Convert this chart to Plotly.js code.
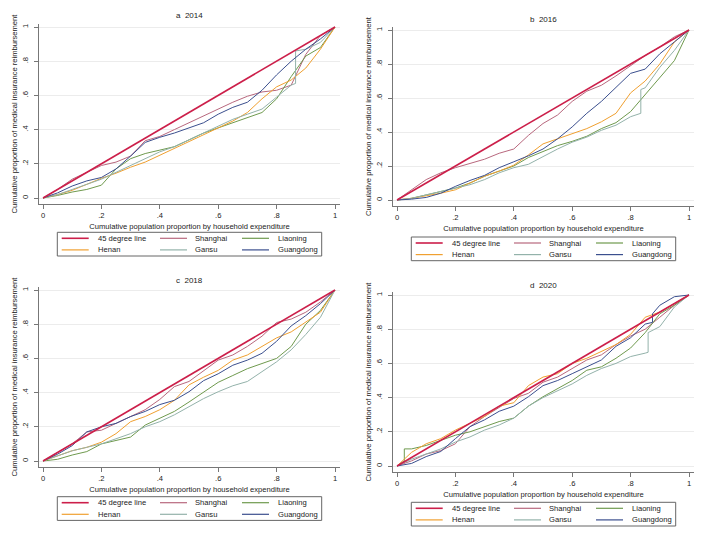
<!DOCTYPE html>
<html>
<head>
<meta charset="utf-8">
<script src="https://cdn.plot.ly/plotly-3.0.1.min.js"></script>
<style>html,body{margin:0;padding:0;background:#fff;}#chart{width:708px;height:533px;}</style>
</head>
<body>
<div id="chart"></div>
<script>
// ---------- data ----------
const xGrid = [0,0.05,0.1,0.15,0.2,0.25,0.3,0.35,0.4,0.45,0.5,0.55,0.6,0.65,0.7,0.75,0.8,0.85,0.9,0.95,1];
const diagX = [0,1];
const diagY = [0,1];
const xTickVals = [0,0.2,0.4,0.6,0.8,1];
const xTickText = ['0','.2','.4','.6','.8','1'];
const yTickVals = [0,0.2,0.4,0.6,0.8,1];
const yTickText = ['0','.2','.4','.6','.8','1'];
const seriesNames = ['45 degree line','Shanghai','Liaoning','Henan','Gansu','Guangdong'];
const panelTitles = ['a  2014','b  2016','c  2018','d  2020'];
const xTitle = 'Cumulative population proportion by household expenditure';
const yTitle = 'Cumulative proportion of medical insurance reimbursement';

// 2014
const sh14 = [0,.05,.11,.15,.19,.21,.245,.335,.36,.40,.44,.48,.52,.56,.595,.62,.63,.66,.84,.95,1];
const ln14 = [0,.015,.035,.05,.075,.17,.23,.26,.28,.30,.34,.38,.41,.44,.47,.50,.58,.71,.83,.88,1];
const hn14 = [0,.02,.045,.08,.115,.145,.18,.21,.25,.29,.33,.37,.41,.45,.50,.58,.65,.69,.76,.87,1];
const gs14X = [0,.05,.1,.15,.2,.25,.3,.35,.4,.45,.5,.55,.6,.65,.7,.75,.8,.85,.865,.865,.9,.95,1];
const gs14 = [0,.02,.05,.08,.11,.15,.19,.23,.27,.30,.34,.38,.42,.46,.49,.52,.59,.66,.67,.86,.87,.91,1];
const gd14 = [0,.03,.07,.10,.12,.17,.245,.325,.355,.38,.41,.44,.49,.53,.56,.63,.72,.80,.87,.93,1];
// 2016
const sh16 = [0,.06,.12,.16,.19,.215,.24,.275,.30,.38,.45,.50,.58,.64,.675,.73,.79,.85,.90,.96,1];
const ln16 = [0,.01,.03,.05,.07,.10,.14,.17,.20,.25,.285,.32,.345,.375,.42,.455,.52,.62,.72,.82,1];
const hn16 = [0,.01,.025,.04,.06,.10,.14,.17,.205,.265,.33,.36,.39,.42,.46,.51,.63,.70,.80,.93,1];
const gs16X = [0,.05,.1,.15,.2,.25,.3,.35,.4,.45,.5,.55,.6,.65,.7,.75,.8,.835,.835,.85,.9,.95,1];
const gs16 = [0,.01,.03,.05,.07,.09,.12,.16,.19,.21,.255,.30,.34,.37,.41,.44,.49,.51,.65,.66,.78,.88,1];
const gd16 = [0,.005,.015,.04,.08,.115,.145,.19,.225,.26,.30,.36,.43,.51,.58,.66,.745,.77,.86,.93,1];
// 2018
const sh18 = [0,.05,.10,.17,.18,.22,.26,.30,.36,.435,.465,.53,.59,.62,.67,.73,.81,.83,.87,.93,1];
const ln18 = [0,.01,.035,.055,.10,.12,.14,.21,.25,.29,.345,.40,.46,.50,.54,.57,.60,.67,.80,.88,1];
const hn18 = [0,.03,.06,.08,.11,.16,.23,.26,.30,.355,.445,.49,.53,.59,.62,.67,.72,.755,.81,.87,1];
const gs18 = [0,.03,.06,.08,.10,.13,.16,.20,.23,.27,.32,.365,.405,.44,.465,.52,.58,.65,.74,.84,1];
const gd18 = [0,.04,.09,.17,.20,.22,.26,.29,.33,.355,.405,.47,.51,.56,.59,.63,.70,.79,.85,.92,1];
// 2020
const sh20 = [0,.03,.07,.09,.13,.23,.29,.34,.395,.425,.49,.52,.57,.62,.65,.71,.76,.80,.87,.94,1];
const ln20X = [0,.025,.025,.05,.1,.15,.2,.25,.3,.35,.4,.45,.5,.55,.6,.65,.7,.75,.8,.85,.9,.95,1];
const ln20 = [0,.03,.10,.10,.12,.15,.18,.20,.23,.26,.28,.35,.405,.455,.50,.56,.58,.63,.69,.78,.89,.94,1];
const hn20 = [0,.08,.13,.16,.21,.25,.29,.35,.37,.47,.52,.54,.60,.63,.67,.71,.77,.87,.90,.95,1];
const gs20X = [0,.05,.1,.15,.2,.25,.3,.35,.4,.45,.5,.55,.6,.65,.7,.75,.8,.85,.86,.86,.9,.95,1];
const gs20 = [0,.04,.07,.10,.14,.17,.21,.24,.28,.35,.40,.44,.48,.53,.57,.60,.64,.66,.665,.78,.815,.93,1];
const gd20X = [0,.05,.1,.15,.2,.25,.3,.35,.4,.45,.5,.55,.6,.65,.7,.75,.8,.85,.875,.875,.9,.95,1];
const gd20 = [0,.015,.055,.085,.16,.23,.27,.32,.35,.405,.47,.50,.54,.58,.62,.70,.75,.83,.84,.89,.94,.99,1];

// ---------- styling / layout ----------
const W = 708, H = 533;
const FONT = 'Arial, "Liberation Sans", sans-serif';
const FS = 7.6;
const TXT = '#222';
const colors = ['#cc1f4a','#b8687e','#6f9a4e','#f0a030','#93b2aa','#3b4f8e'];
const widths = [1.6,1,1,1,1,1];

// series order: Shanghai, Liaoning, Henan, Gansu, Guangdong  -> [x, y]
const panels = [
  {x0:43, x1:335, y0:198, y1:27, titleY:16, legTop:232.3,
   series:[[xGrid,sh14],[xGrid,ln14],[xGrid,hn14],[gs14X,gs14],[xGrid,gd14]]},
  {x0:397, x1:689, y0:200, y1:30, titleY:20, legTop:237,
   series:[[xGrid,sh16],[xGrid,ln16],[xGrid,hn16],[gs16X,gs16],[xGrid,gd16]]},
  {x0:43, x1:335, y0:461, y1:290, titleY:280, legTop:496.7,
   series:[[xGrid,sh18],[xGrid,ln18],[xGrid,hn18],[xGrid,gs18],[xGrid,gd18]]},
  {x0:397, x1:689, y0:466, y1:295, titleY:285, legTop:502.3,
   series:[[xGrid,sh20],[ln20X,ln20],[xGrid,hn20],[gs20X,gs20],[gd20X,gd20]]}
];
const padL = 4, padR = 5, padB = 6, padT = 3;
const fx = p => p / W;
const fy = p => 1 - p / H;

const traces = [];
const layout = {
  width: W, height: H,
  margin: {l:0, r:0, t:0, b:0},
  paper_bgcolor: '#fff', plot_bgcolor: '#fff',
  showlegend: false,
  font: {family: FONT, size: FS, color: TXT},
  annotations: [], shapes: []
};

panels.forEach((p, i) => {
  const n = i === 0 ? '' : String(i + 1);
  const xa = 'x' + n, ya = 'y' + n;
  const ux = p.x1 - p.x0, uy = p.y0 - p.y1;
  layout['xaxis' + n] = {
    domain: [fx(p.x0 - padL), fx(p.x1 + padR)],
    range: [-padL / ux, 1 + padR / ux],
    anchor: ya, showline: true, linecolor: '#777', linewidth: 1,
    ticks: 'outside', ticklen: 4, tickcolor: '#777', tickwidth: 1,
    tickvals: xTickVals, ticktext: xTickText,
    tickfont: {family: FONT, size: FS, color: TXT},
    showgrid: false, zeroline: false, fixedrange: true,
    title: {text: xTitle, font: {family: FONT, size: FS, color: TXT}, standoff: 4}
  };
  layout['yaxis' + n] = {
    domain: [fy(p.y0 + padB), fy(p.y1 - padT)],
    range: [-padB / uy, 1 + padT / uy],
    anchor: xa, showline: true, linecolor: '#777', linewidth: 1,
    ticks: 'outside', ticklen: 4, tickcolor: '#777', tickwidth: 1,
    tickvals: yTickVals, ticktext: yTickText, tickangle: -90, ticklabelstandoff: 3,
    tickfont: {family: FONT, size: FS, color: TXT},
    showgrid: true, gridcolor: '#ececec', gridwidth: 1, zeroline: false, fixedrange: true,
    title: {text: yTitle, font: {family: FONT, size: FS, color: TXT}, standoff: 2}
  };

  p.series.forEach((s, k) => {
    traces.push({x: s[0], y: s[1], xaxis: xa, yaxis: ya, type: 'scatter', mode: 'lines',
      name: seriesNames[k + 1], line: {color: colors[k + 1], width: widths[k + 1]}, hoverinfo: 'skip'});
  });
  // 45 degree line drawn on top
  traces.push({x: diagX, y: diagY, xaxis: xa, yaxis: ya, type: 'scatter', mode: 'lines',
    name: seriesNames[0], line: {color: colors[0], width: widths[0]}, hoverinfo: 'skip'});

  // panel title
  layout.annotations.push({text: panelTitles[i].replace('  ', '\u00a0 '), xref: 'paper', yref: 'paper',
    x: fx((p.x0 + p.x1) / 2), y: fy(p.titleY), xanchor: 'center', yanchor: 'middle',
    showarrow: false, font: {family: FONT, size: FS + 0.4, color: TXT}});

  // legend box (3 columns x 2 rows)
  const top = p.legTop, bh = 23.7;
  layout.shapes.push({type: 'rect', xref: 'paper', yref: 'paper',
    x0: fx(p.x0 + 14.3), x1: fx(p.x0 + 278.7), y0: fy(top), y1: fy(top + bh),
    line: {color: '#666', width: 1}, fillcolor: 'rgba(0,0,0,0)'});
  const colLine = [18.7, 117, 199], colText = [53.7, 151.3, 233.7], rows = [top + 6, top + 17.6];
  seriesNames.forEach((nm, k) => {
    const c = k % 3, r = Math.floor(k / 3);
    layout.shapes.push({type: 'line', xref: 'paper', yref: 'paper',
      x0: fx(p.x0 + colLine[c]), x1: fx(p.x0 + colLine[c] + 27), y0: fy(rows[r]), y1: fy(rows[r]),
      line: {color: colors[k], width: k === 0 ? 1.6 : 1.2}});
    layout.annotations.push({text: nm, xref: 'paper', yref: 'paper',
      x: fx(p.x0 + colText[c]), y: fy(rows[r]), xanchor: 'left', yanchor: 'middle',
      showarrow: false, borderpad: 0, font: {family: FONT, size: FS, color: TXT}});
  });
});

Plotly.newPlot('chart', traces, layout, {staticPlot: true, displayModeBar: false});
</script>
</body>
</html>
